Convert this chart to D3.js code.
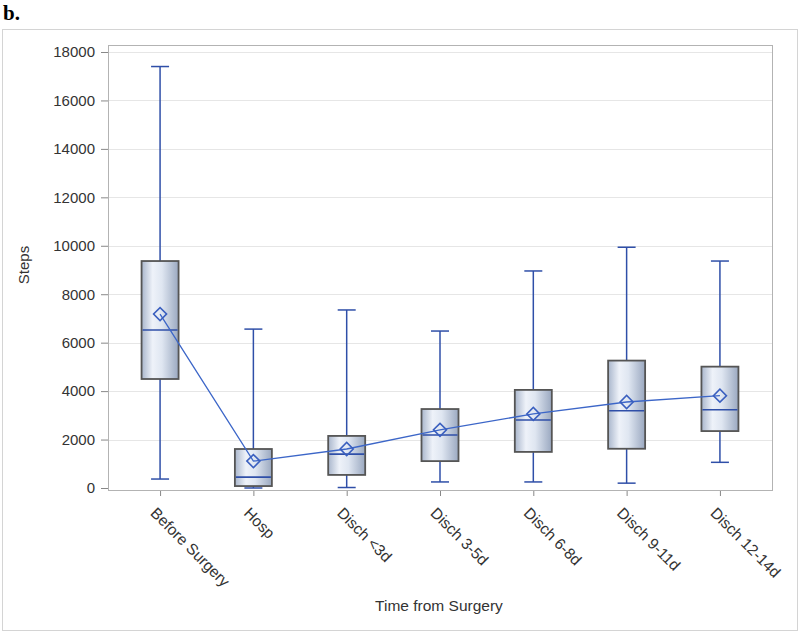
<!DOCTYPE html>
<html>
<head>
<meta charset="utf-8">
<script src="https://cdn.jsdelivr.net/npm/d3@7"></script>
<style>
  body { margin: 0; background: #fff; }
  svg { display: block; font-family: Arial, "Liberation Sans", sans-serif; }
</style>
</head>
<body>
<svg id="chart" width="800" height="633"></svg>
<script>
const categories = ['Before Surgery', 'Hosp', 'Disch <3d', 'Disch 3-5d', 'Disch 6-8d', 'Disch 9-11d', 'Disch 12-14d']
const whiskerLow = [370, 0, 20, 250, 250, 200, 1060]
const q1 = [4500, 80, 540, 1110, 1490, 1620, 2350]
const median = [6520, 450, 1400, 2190, 2810, 3190, 3230]
const q3 = [9370, 1610, 2150, 3260, 4050, 5260, 5010]
const whiskerHigh = [17400, 6560, 7350, 6480, 8960, 9940, 9370]
const means = [7180, 1110, 1610, 2400, 3060, 3550, 3810]
const yTicks = [0, 2000, 4000, 6000, 8000, 10000, 12000, 14000, 16000, 18000]

const svg = d3.select('#chart')
const plotL = 108, plotR = 772, plotT = 45, plotB = 490
const BOX_W = 37, CAP_W = 18

const data = categories.map((c, i) => ({
  cat: c, lo: whiskerLow[i], q1: q1[i], med: median[i], q3: q3[i], hi: whiskerHigh[i], mean: means[i]
}))

// outer frame + panel label
svg.append('rect').attr('x', 2.5).attr('y', 29.5).attr('width', 795).attr('height', 601)
  .attr('fill', 'none').attr('stroke', '#d4d4d4')
svg.append('text').text('b.').attr('x', 3).attr('y', 20)
  .style('font-family', '"Liberation Serif", "Times New Roman", serif')
  .style('font-weight', 'bold').style('font-size', '21px')

const x = d3.scalePoint().domain(categories).range([plotL, plotR]).padding(0.558)
const y = d3.scaleLinear().domain([0, 18000]).range([488, 52])

// gradient for boxes
const grad = svg.append('defs').append('linearGradient').attr('id', 'boxfill')
  .attr('x1', '0%').attr('x2', '100%').attr('y1', '0%').attr('y2', '0%')
grad.append('stop').attr('offset', '0%').attr('stop-color', '#a9b6cc')
grad.append('stop').attr('offset', '30%').attr('stop-color', '#eef2f9')
grad.append('stop').attr('offset', '55%').attr('stop-color', '#dfe6f1')
grad.append('stop').attr('offset', '100%').attr('stop-color', '#9aa8c0')

// gridlines
svg.append('g').selectAll('line').data(yTicks.slice(1)).join('line')
  .attr('x1', plotL).attr('x2', plotR)
  .attr('y1', d => Math.round(y(d)) + 0.5).attr('y2', d => Math.round(y(d)) + 0.5)
  .attr('stroke', '#e6e6e6')

// axes
const axisY = d3.axisLeft(y).tickValues(yTicks).tickSize(7).tickFormat(d3.format('d'))
const gy = svg.append('g').attr('transform', `translate(${plotL},0)`).call(axisY)
gy.select('.domain').remove()
gy.selectAll('.tick line').attr('stroke', '#888')
gy.selectAll('.tick text').attr('fill', '#333').style('font-size', '15px').attr('x', -13)

const axisX = d3.axisBottom(x).tickSize(6).tickSizeOuter(0)
const gx = svg.append('g').attr('transform', `translate(0,${plotB})`).call(axisX)
gx.select('.domain').remove()
gx.selectAll('.tick line').attr('stroke', '#888')
gx.selectAll('.tick text')
  .attr('fill', '#333').style('font-size', '15.5px')
  .attr('text-anchor', 'start').attr('x', 0).attr('y', 0).attr('dy', 0)
  .attr('transform', 'translate(-11,24) rotate(45)')

// plot border
svg.append('rect').attr('x', plotL + 0.5).attr('y', plotT + 0.5)
  .attr('width', plotR - plotL).attr('height', plotB - plotT)
  .attr('fill', 'none').attr('stroke', '#b3b3b3')

// axis titles
svg.append('text').text('Steps').attr('transform', `translate(29,265) rotate(-90)`)
  .attr('text-anchor', 'middle').attr('fill', '#333').style('font-size', '15px')
svg.append('text').text('Time from Surgery').attr('x', 439).attr('y', 611)
  .attr('text-anchor', 'middle').attr('fill', '#333').style('font-size', '15.5px')

const blue = '#2f4fa8'
const boxes = svg.append('g').selectAll('g').data(data).join('g')
  .attr('transform', d => `translate(${x(d.cat)},0)`)

// whiskers
boxes.append('line').attr('x1', 0).attr('x2', 0)
  .attr('y1', d => y(d.hi)).attr('y2', d => y(d.lo)).attr('stroke', blue).attr('stroke-width', 1.5)
boxes.append('line').attr('x1', -CAP_W / 2).attr('x2', CAP_W / 2)
  .attr('y1', d => y(d.hi)).attr('y2', d => y(d.hi)).attr('stroke', blue).attr('stroke-width', 1.5)
boxes.append('line').attr('x1', -CAP_W / 2).attr('x2', CAP_W / 2)
  .attr('y1', d => y(d.lo)).attr('y2', d => y(d.lo)).attr('stroke', blue).attr('stroke-width', 1.5)

// box
boxes.append('rect').attr('x', -BOX_W / 2).attr('width', BOX_W)
  .attr('y', d => y(d.q3)).attr('height', d => y(d.q1) - y(d.q3))
  .attr('fill', 'url(#boxfill)').attr('stroke', '#555').attr('stroke-width', 1.8)

// median
boxes.append('line').attr('x1', -BOX_W / 2 + 1).attr('x2', BOX_W / 2 - 1)
  .attr('y1', d => y(d.med)).attr('y2', d => y(d.med)).attr('stroke', blue).attr('stroke-width', 1.6)

// mean connect line
const meanLine = d3.line().x(d => x(d.cat)).y(d => y(d.mean))
svg.append('path').datum(data).attr('d', meanLine)
  .attr('fill', 'none').attr('stroke', '#3c66c8').attr('stroke-width', 1.3)

// mean diamonds
svg.append('g').selectAll('path').data(data).join('path')
  .attr('d', d3.symbol(d3.symbolSquare, 85))
  .attr('transform', d => `translate(${x(d.cat)},${y(d.mean)}) rotate(45)`)
  .attr('fill', 'none').attr('stroke', '#3a5fbf').attr('stroke-width', 1.6)
</script>
</body>
</html>
